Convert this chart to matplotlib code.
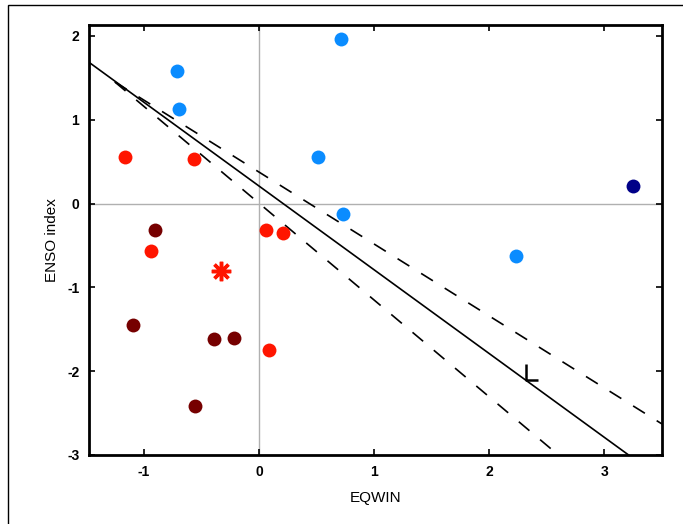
import matplotlib
matplotlib.use('Agg')
import matplotlib.pyplot as plt
from matplotlib.path import Path
from matplotlib.patches import Rectangle

plt.rcParams['font.family'] = ['Liberation Sans', 'DejaVu Sans']
plt.rcParams['axes.unicode_minus'] = False
plt.rcParams['lines.scale_dashes'] = False

# points (EQWIN, ENSO index)
blue_x = [-0.71, -0.69, 0.71, 0.51, 0.73, 2.23]
blue_y = [1.58, 1.13, 1.96, 0.55, -0.12, -0.62]
navy_x = [3.25]
navy_y = [0.21]
red_x = [-1.16, -0.56, -0.94, 0.06, 0.21, 0.09]
red_y = [0.55, 0.53, -0.57, -0.31, -0.355, -1.75]
star_x = [-0.33]
star_y = [-0.81]
maroon_x = [-0.90, -1.09, -0.39, -0.22, -0.555]
maroon_y = [-0.31, -1.45, -1.62, -1.61, -2.42]
mark_x = [2.32]
mark_y = [-2.10]

# regression line and its two bounds (end points)
fit_x = [-1.47, 3.21]
fit_y = [1.68, -3.0]
upper_x = [-1.25, 3.5]
upper_y = [1.45, -2.63]
lower_x = [-1.25, 2.6]
lower_y = [1.45, -3.0]

xticks = [-1, 0, 1, 2, 3]
yticks = [-3, -2, -1, 0, 1, 2]

fig = plt.figure(figsize=(6.83, 5.24), dpi=100)
fig.patches.append(Rectangle((8 / 683, -0.1), 1.2, 0.1 + 1 - 5 / 524,
                             transform=fig.transFigure, fill=False,
                             edgecolor='black', lw=1.0))
ax = fig.add_axes([89 / 683, 1 - 455 / 524, 573 / 683, 430 / 524])

ax.axhline(0, color='#b0b0b0', lw=1.0, zorder=1)
ax.axvline(0, color='#b0b0b0', lw=1.0, zorder=1)

ax.plot(fit_x, fit_y, color='black', lw=1.2, zorder=2)
ax.plot(upper_x, upper_y, color='black', lw=1.2, dashes=(10, 10), zorder=2)
ax.plot(lower_x, lower_y, color='black', lw=1.2, dashes=(10, 10), zorder=2)

ms = 10
ax.plot(blue_x, blue_y, 'o', color='#0a8cff', ms=ms, mec='none', zorder=3)
ax.plot(navy_x, navy_y, 'o', color='#000088', ms=ms, mec='none', zorder=3)
ax.plot(red_x, red_y, 'o', color='#ff1500', ms=ms, mec='none', zorder=3)
ax.plot(maroon_x, maroon_y, 'o', color='#760000', ms=ms, mec='none', zorder=3)
ax.plot(star_x, star_y, marker=(8, 2, 0), color='#ff1500', ms=14, mew=2.5,
        ls='none', zorder=3)

# the small "L" mark on the fit line
ell = Path([(0, 1.3), (0, 0), (1, 0)], [Path.MOVETO, Path.LINETO, Path.LINETO])
ax.plot(mark_x, mark_y, marker=ell, color='black', ms=23, mew=1.8,
        mfc='none', ls='none', zorder=4)

ax.set_xlim(-1.475, 3.5)
ax.set_ylim(-3, 2.13)
ax.set_xticks(xticks)
ax.set_yticks(yticks)
ax.tick_params(direction='in', length=4, width=1.2, top=True, right=True,
               labelsize=10, pad=7)
for lab in ax.get_xticklabels() + ax.get_yticklabels():
    lab.set_fontweight('bold')
for side in ['left', 'bottom', 'top', 'right']:
    ax.spines[side].set_linewidth(2.0)

ax.set_xlabel('EQWIN', fontsize=11, labelpad=9)
ax.set_ylabel('ENSO index', fontsize=11, labelpad=6)

fig.savefig('out.png', dpi=100)
